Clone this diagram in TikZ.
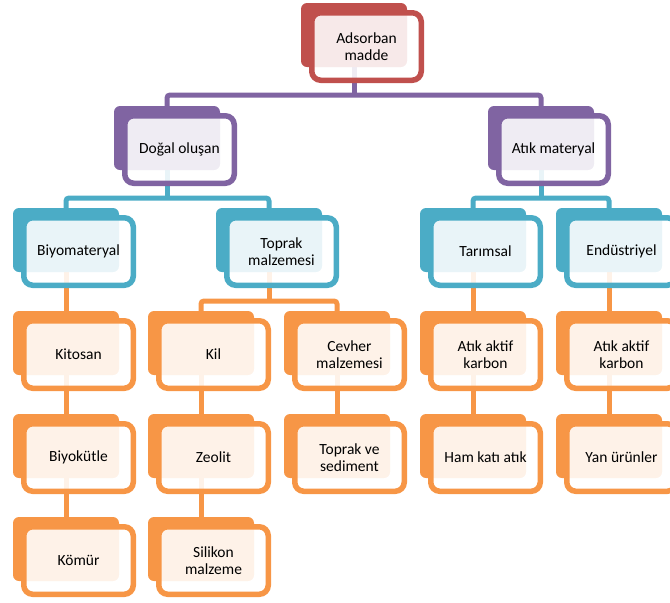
\documentclass[tikz,border=0pt]{standalone}
\usepackage{fontspec}
\setmainfont{Carlito}
\usepackage{tikz}
\definecolor{boxred}{HTML}{C0504D}
\definecolor{boxpurple}{HTML}{8064A2}
\definecolor{boxblue}{HTML}{4BACC6}
\definecolor{boxorange}{HTML}{F79646}
\newcommand{\boxfont}{\fontsize{15.5}{17}\selectfont}
\pgfdeclarelayer{background}
\pgfsetlayers{background,main}
\tikzset{
    %Define style for the solid back boxes
    backbox/.style={
        rectangle,
        rounded corners=6pt,
        fill=#1,
        inner sep=0pt,
        minimum width=106pt,
        minimum height=64pt
    },
    %Define style for the framed front boxes
    framebox/.style={
        rectangle,
        rounded corners=9pt,
        draw=#1, line width=5.5pt,
        fill=white, fill opacity=0.88, text opacity=1,
        inner sep=2pt,
        minimum width=109.5pt,
        minimum height=67.5pt,
        font=\boxfont,
        text=black,
        align=center
    },
    % Define connector style
    link/.style={
        draw=#1,
        line width=5pt,
        rounded corners=3pt}
}
\begin{document}
\begin{tikzpicture}[x=1pt,y=-1pt]
\useasboundingbox (0,0) rectangle (670,603);
\clip (0,0) rectangle (670,603);
\foreach \n/\x/\y/\c/\t in {
    top/301/3/boxred/{Adsorban\\madde},
    dogal/114/106/boxpurple/{Doğal oluşan},
    atik/488/106/boxpurple/{Atık materyal},
    biyo/13/208/boxblue/{Biyomateryal},
    toprak/216/208/boxblue/{Toprak\\malzemesi},
    tarim/420/208/boxblue/{Tarımsal},
    endus/556/208/boxblue/{Endüstriyel},
    kitosan/13/311/boxorange/{Kitosan},
    kil/148/311/boxorange/{Kil},
    cevher/284/311/boxorange/{Cevher\\malzemesi},
    karbonA/420/311/boxorange/{Atık aktif\\karbon},
    karbonB/556/311/boxorange/{Atık aktif\\karbon},
    biyokutle/13/414/boxorange/{Biyokütle},
    zeolit/148/414/boxorange/{Zeolit},
    sediment/284/414/boxorange/{Toprak ve\\sediment},
    hamatik/420/414/boxorange/{Ham katı atık},
    yanurun/556/414/boxorange/{Yan ürünler},
    komur/13/517/boxorange/{Kömür},
    silikon/148/517/boxorange/{Silikon\\malzeme}}{
    \node[backbox=\c] (\n) at (\x+53,\y+32) {};
    \node[framebox=\c] (\n-t) at (\x+65.5,\y+43.5) {\t};
}
\coordinate (bar1) at (0,95);
\coordinate (bar2) at (0,198);
\coordinate (bar3) at (0,301);
\begin{pgfonlayer}{background}
\draw[link=boxpurple] (top.center) -- (top |- bar1);
\draw[link=boxpurple] (dogal.center) |- (bar1 -| top) -| (atik.center);
\draw[link=boxblue] (dogal.center) -- (dogal |- bar2);
\draw[link=boxblue] (biyo.center) |- (bar2 -| dogal) -| (toprak.center);
\draw[link=boxblue] (atik.center) -- (atik |- bar2);
\draw[link=boxblue] (tarim.center) |- (bar2 -| atik) -| (endus.center);
\draw[link=boxorange] (toprak.center) -- (toprak |- bar3);
\draw[link=boxorange] (kil.center) |- (bar3 -| toprak) -| (cevher.center);
\draw[link=boxorange] (biyo.center) -- (kitosan.center) -- (biyokutle.center) -- (komur.center);
\draw[link=boxorange] (kil.center) -- (zeolit.center) -- (silikon.center);
\draw[link=boxorange] (cevher.center) -- (sediment.center);
\draw[link=boxorange] (tarim.center) -- (karbonA.center) -- (hamatik.center);
\draw[link=boxorange] (endus.center) -- (karbonB.center) -- (yanurun.center);
\end{pgfonlayer}
\end{tikzpicture}
\end{document}
